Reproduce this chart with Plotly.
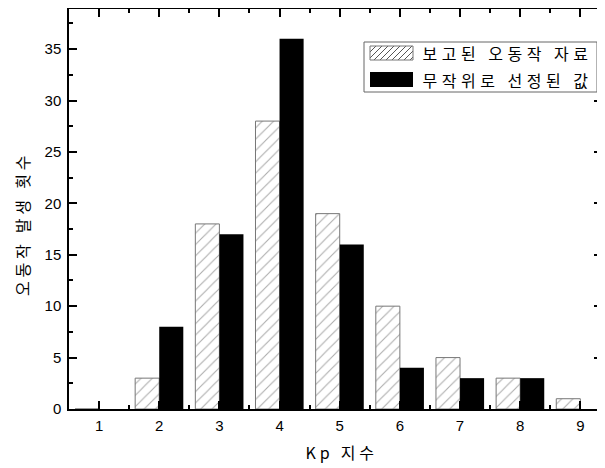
import plotly.graph_objects as go

kp = [1, 2, 3, 4, 5, 6, 7, 8, 9]
reported = [0, 3, 18, 28, 19, 10, 5, 3, 1]
random_sel = [0, 8, 17, 36, 16, 4, 3, 3, 0]
name_reported = "보고된 오동작 자료"
name_random = "무작위로 선정된 값"
x_title = "Kp 지수"
y_title = "오동작 발생 횟수"

FONT = "Liberation Sans, Arial, sans-serif"
KFONT = "Noto Sans CJK KR, sans-serif"

# page has an 8px body margin, so the figure is drawn 8px right/down
OFF = 8
W, H = 597, 460
ML, MR, MT, MB = 61, 3, 1, 59
PW, PH = W - ML - MR, H - MT - MB

LEG_SPACING = 4.5
TITLE_SPACING = 3.8


def px2paper(sx, sy):
    """screen pixel -> paper coordinates"""
    px, py = sx - OFF, sy - OFF
    return (px - ML) / PW, (H - MB - py) / PH


fig = go.Figure()
fig.add_trace(go.Bar(
    x=kp, y=reported, name=name_reported, showlegend=False,
    marker=dict(color="white", line=dict(color="#777777", width=1),
                pattern=dict(shape="/", fgcolor="#5a5a5a", size=8, solidity=0.14)),
))
fig.add_trace(go.Bar(
    x=kp, y=random_sel, name=name_random, showlegend=False,
    marker=dict(color="black", line=dict(color="black", width=0)),
))

axis_common = dict(
    showline=True, linecolor="black", linewidth=1.5, mirror="ticks",
    ticks="inside", ticklen=8, tickwidth=1.5, tickcolor="black",
    showgrid=False, zeroline=False, automargin=False,
    tickfont=dict(family=FONT, size=15, color="black"),
)

# ---- custom legend (box, swatches, labels) ----
shapes = []
bx0, by0 = px2paper(364, 42)
bx1, by1 = px2paper(597, 92)
shapes.append(dict(type="rect", xref="paper", yref="paper",
                   x0=bx0, y0=by1, x1=bx1, y1=by0,
                   line=dict(color="#666666", width=1), fillcolor="white", layer="above"))
sx0, sy0, sx1, sy1 = 370, 46, 413, 60
path = ""
step = 6
c = sx0 - (sy1 - sy0)
while c < sx1:
    xa, ya = c, sy1
    xb, yb = c + (sy1 - sy0), sy0
    if xa < sx0:
        ya = ya - (sx0 - xa); xa = sx0
    if xb > sx1:
        yb = yb + (xb - sx1); xb = sx1
    if xb > xa:
        pa = px2paper(xa, ya); pb = px2paper(xb, yb)
        path += f"M {pa[0]:.5f} {pa[1]:.5f} L {pb[0]:.5f} {pb[1]:.5f} "
    c += step
shapes.append(dict(type="path", xref="paper", yref="paper", path=path,
                   line=dict(color="#555555", width=1), layer="above"))
a0 = px2paper(sx0, sy0); a1 = px2paper(sx1, sy1)
shapes.append(dict(type="rect", xref="paper", yref="paper",
                   x0=a0[0], y0=a1[1], x1=a1[0], y1=a0[1],
                   line=dict(color="#777777", width=1), layer="above"))
b0 = px2paper(370, 72); b1 = px2paper(413, 87)
shapes.append(dict(type="rect", xref="paper", yref="paper",
                   x0=b0[0], y0=b1[1], x1=b1[0], y1=b0[1],
                   line=dict(color="black", width=0), fillcolor="black", layer="above"))

annotations = []
for txt, cy in [(name_reported, 53), (name_random, 79.5)]:
    # letter-spacing is added after layout, growing the text around its centre
    shift = len(txt) * LEG_SPACING / 2
    tx, ty = px2paper(420 + shift, cy)
    annotations.append(dict(text=txt, xref="paper", yref="paper", x=tx, y=ty,
                            xanchor="left", yanchor="middle", showarrow=False,
                            font=dict(family=KFONT, size=16, color="black")))

# axis titles
tx, ty = px2paper(341, 452)
annotations.append(dict(text=x_title, xref="paper", yref="paper", x=tx, y=ty,
                        xanchor="center", yanchor="middle", showarrow=False,
                        font=dict(family=KFONT, size=16, color="black")))
tx, ty = px2paper(22, 224)
annotations.append(dict(text=y_title, xref="paper", yref="paper", x=tx, y=ty,
                        xanchor="center", yanchor="middle", showarrow=False, textangle=-90,
                        font=dict(family=KFONT, size=16, color="black")))

fig.update_layout(
    width=W, height=H,
    margin=dict(l=ML, r=MR, t=MT, b=MB),
    paper_bgcolor="white", plot_bgcolor="white",
    barmode="group", bargap=0.2, bargroupgap=0,
    showlegend=False,
    shapes=shapes, annotations=annotations,
    xaxis=dict(range=[0.5, 9.36], tickmode="array", tickvals=kp, ticklabelstandoff=2,
               minor=dict(ticks="inside", ticklen=4, tickwidth=1.5, tickcolor="black", dtick=0.5, tick0=0.5),
               **axis_common),
    yaxis=dict(range=[0, 38.9], tickmode="linear", tick0=0, dtick=5, ticklabelstandoff=3,
               minor=dict(ticks="inside", ticklen=4, tickwidth=1.5, tickcolor="black", dtick=2.5),
               **axis_common),
)

post = ("var sp=[%s,%s,%s,%s];"
        "document.querySelectorAll('.annotation').forEach(function(g,i){"
        "var t=g.querySelector('.annotation-text'); if(t){t.style.letterSpacing=sp[i]+'px';}});"
        % (LEG_SPACING, LEG_SPACING, TITLE_SPACING, TITLE_SPACING))
fig.write_html("out.html", post_script=post)
